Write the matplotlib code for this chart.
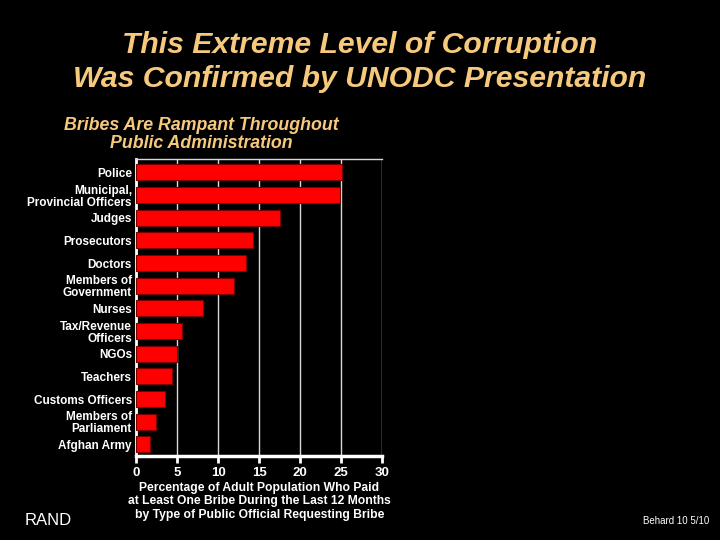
import matplotlib.pyplot as plt

plt.rcParams['font.family'] = ['Liberation Sans', 'DejaVu Sans']

# bribe share by type of official (top to bottom)
categories = ["Police", "Municipal,\nProvincial Officers", "Judges", "Prosecutors",
              "Doctors", "Members of\nGovernment", "Nurses", "Tax/Revenue\nOfficers",
              "NGOs", "Teachers", "Customs Officers", "Members of\nParliament",
              "Afghan Army"]
values = [25.1, 24.9, 17.5, 14.2, 13.4, 11.9, 8.2, 5.6, 5.0, 4.4, 3.5, 2.4, 1.7]
xticks = [0, 5, 10, 15, 20, 25, 30]

TITLE_COLOR = "#F7C97C"

fig = plt.figure(figsize=(7.2, 5.4), dpi=100, facecolor="black")
ax = fig.add_axes([0.189, 0.156, 0.342, 0.550], facecolor="black")

ypos = list(range(len(categories)))
ax.barh(ypos, values, height=0.7, color="#FF0000", edgecolor="#7a0000",
        linewidth=0.8, zorder=3)

ax.set_xlim(0, 30)
ax.set_ylim(len(categories) - 0.5, -0.6)
ax.set_xticks(xticks)
ax.set_xticklabels([str(t) for t in xticks])
ax.set_yticks(ypos)
ax.set_yticklabels(categories, linespacing=1.0)

ax.grid(axis="x", color="#d8d8d8", linewidth=1.0, zorder=1)
ax.tick_params(axis="x", colors="white", width=2, length=5, direction="out",
               labelsize=9.5, pad=3)
ax.tick_params(axis="y", length=0, colors="white", labelsize=8.5, pad=3)
for lab in ax.get_xticklabels() + ax.get_yticklabels():
    lab.set_fontweight("bold")

ax.spines["right"].set_visible(False)
ax.spines["top"].set_color("#d8d8d8")
ax.spines["top"].set_linewidth(1.0)
ax.spines["bottom"].set_color("white")
ax.spines["bottom"].set_linewidth(2.5)
ax.spines["left"].set_color("white")
ax.spines["left"].set_linewidth(2.0)

ax.set_xlabel("Percentage of Adult Population Who Paid\n"
              "at Least One Bribe During the Last 12 Months\n"
              "by Type of Public Official Requesting Bribe",
              color="white", fontsize=8.7, fontweight="bold", linespacing=1.2,
              labelpad=2)

fig.text(0.5, 0.917, "This Extreme Level of Corruption",
         ha="center", va="center", color=TITLE_COLOR, fontsize=21.7,
         fontstyle="italic", fontweight="bold")
fig.text(0.5, 0.853, "Was Confirmed by UNODC Presentation",
         ha="center", va="center", color=TITLE_COLOR, fontsize=21.7,
         fontstyle="italic", fontweight="bold")
fig.text(0.28, 0.751, "Bribes Are Rampant Throughout\nPublic Administration",
         ha="center", va="center", color=TITLE_COLOR, fontsize=12.8,
         fontstyle="italic", fontweight="bold", linespacing=1.1)

fig.text(0.034, 0.036, "RAND", ha="left", va="center", color="white", fontsize=12)
fig.text(0.985, 0.036, "Behard 10 5/10", ha="right", va="center", color="white",
         fontsize=7)

fig.savefig("out.png", dpi=100, facecolor="black")
